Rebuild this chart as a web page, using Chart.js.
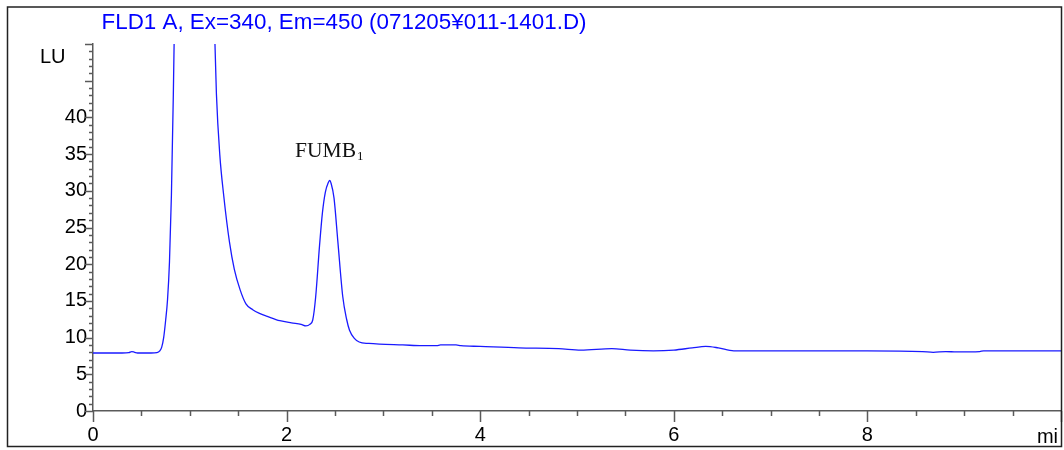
<!DOCTYPE html>
<html>
<head>
<meta charset="utf-8">
<script src="https://cdn.jsdelivr.net/npm/chart.js@4/dist/chart.umd.min.js"></script>
<style>
  html, body { margin: 0; padding: 0; background: #fff; }
  #wrap { position: relative; width: 1064px; height: 450px; }
</style>
</head>
<body>
<div id="wrap"><canvas id="chrom" width="1064" height="450"></canvas></div>
<script>
// Chromatogram trace (time in min, signal in LU)
const times = [
  0.00, 0.30, 0.37, 0.40, 0.43, 0.46, 0.60, 0.66, 0.69, 0.71, 0.73, 0.75, 0.77, 0.79,
  0.81, 0.83, 0.85, 0.90, 1.00, 1.10, 1.20, 1.26, 1.275, 1.31, 1.35, 1.41, 1.46, 1.52,
  1.58, 1.65, 1.72, 1.80, 1.93, 2.05, 2.15, 2.20, 2.24, 2.27, 2.30, 2.34, 2.37, 2.40,
  2.43, 2.445, 2.46, 2.49, 2.53, 2.58, 2.62, 2.65, 2.70, 2.75, 2.85, 2.96, 3.20, 3.40,
  3.55, 3.59, 3.75, 3.80, 4.00, 4.40, 4.81, 5.04, 5.36, 5.55, 5.79, 6.00, 6.19, 6.33,
  6.46, 6.62, 7.00, 8.00, 8.57, 8.68, 8.81, 8.92, 9.16, 9.20, 10.00
];
const signal = [
  7.9, 7.9, 7.95, 8.1, 8.0, 7.9, 7.9, 7.95, 8.2, 8.7, 10.0, 12.3, 15.2, 20.3,
  29.4, 43.2, 60, 85, 100, 95, 70, 50, 43.2, 34.9, 29.4, 23.0, 19.3, 16.5,
  14.6, 13.8, 13.3, 12.9, 12.3, 12.0, 11.8, 11.6, 11.8, 12.4, 15.5, 22.5, 27.0, 29.8,
  31.1, 31.4, 31.0, 29.0, 23.0, 15.6, 12.5, 11.0, 9.9, 9.4, 9.2, 9.1, 9.0, 8.9,
  8.9, 9.0, 9.0, 8.9, 8.8, 8.6, 8.5, 8.3, 8.5, 8.3, 8.2, 8.3, 8.6, 8.8,
  8.6, 8.2, 8.2, 8.2, 8.1, 8.0, 8.1, 8.05, 8.1, 8.2, 8.2
];
const yLabels = [0, 5, 10, 15, 20, 25, 30, 35, 40];
const xLabels = [0, 2, 4, 6, 8];
const titleText = 'FLD1 A, Ex=340, Em=450 (071205\u00A5011-1401.D)';
const peakName = 'FUMB';

const axisColor = '#5a5a5a';

// text drawn squeezed/stretched to a given width
function fitText(ctx, text, x, y, width) {
    const w = ctx.measureText(text).width;
    ctx.save();
    ctx.translate(x, y);
    ctx.scale(width / w, 1);
    ctx.fillText(text, 0, 0);
    ctx.restore();
}

const decorations = {
    id: 'decorations',
    afterDraw(chart) {
        const ctx = chart.ctx;
        const xs = chart.scales.x, ys = chart.scales.y;
        const ax = xs.left, ay = ys.bottom;

        ctx.save();
        ctx.strokeStyle = axisColor;
        ctx.lineWidth = 1.5;
        // y ticks: every 1 LU, longer every 5
        for (let v = 0; v <= 50; v++) {
            const py = Math.round(ys.getPixelForValue(v)) + 0.5;
            const len = v % 5 === 0 ? 8 : 4;
            ctx.beginPath();
            ctx.moveTo(ax - len, py);
            ctx.lineTo(ax, py);
            ctx.stroke();
        }
        // x ticks: every 0.5 min, longer every 2
        for (let i = 0; i <= 20; i++) {
            const v = i / 2;
            const px = Math.round(xs.getPixelForValue(v)) + 0.5;
            const len = (i % 4 === 0) ? 11 : 5;
            ctx.beginPath();
            ctx.moveTo(px, ay);
            ctx.lineTo(px, ay + len);
            ctx.stroke();
        }

        // outer frame
        ctx.strokeStyle = '#222';
        ctx.lineWidth = 1.5;
        ctx.strokeRect(7.5, 7, 1054, 439.5);

        // title
        ctx.fillStyle = '#0000ff';
        ctx.font = '22px "Liberation Sans", Arial, sans-serif';
        ctx.textBaseline = 'alphabetic';
        ctx.textAlign = 'left';
        fitText(ctx, titleText, 101.5, 28.5, 485);

        // axis units
        ctx.fillStyle = '#000';
        ctx.font = '20px "Liberation Sans", Arial, sans-serif';
        ctx.fillText('LU', 40, 62.5);
        ctx.textAlign = 'right';
        ctx.fillText('mi', 1058, 443);

        // peak label
        ctx.textAlign = 'left';
        ctx.fillStyle = '#111';
        ctx.font = '20px "Liberation Serif", "Times New Roman", serif';
        fitText(ctx, peakName, 295, 156.5, 61);
        ctx.font = '13px "Liberation Serif", "Times New Roman", serif';
        ctx.fillText('1', 357, 159.5);
        ctx.restore();
    }
};

new Chart(document.getElementById('chrom'), {
    type: 'line',
    data: {
        datasets: [{
            data: times.map((t, i) => ({ x: t, y: signal[i] })),
            borderColor: '#1a1aff',
            borderWidth: 1.3,
            pointRadius: 0,
            cubicInterpolationMode: 'monotone',
            fill: false
        }]
    },
    options: {
        responsive: false,
        animation: false,
        devicePixelRatio: 1,
        layout: { padding: { left: 0, top: 44, right: 3, bottom: 0 } },
        plugins: { legend: { display: false }, title: { display: false }, tooltip: { enabled: false } },
        scales: {
            x: {
                type: 'linear',
                min: 0,
                max: 10,
                afterFit: (s) => { s.height = 39; s.paddingLeft = 0; s.paddingRight = 0; },
                grid: { drawOnChartArea: false, drawTicks: false },
                border: { color: axisColor, width: 1.5 },
                ticks: {
                    stepSize: 2,
                    padding: 12,
                    maxRotation: 0,
                    color: '#000',
                    font: { family: '"Liberation Sans", Arial, sans-serif', size: 20 },
                    callback: (v) => xLabels.includes(v) ? String(v) : ''
                }
            },
            y: {
                min: 0,
                max: 50,
                afterFit: (s) => { s.width = 93; s.paddingTop = 0; s.paddingBottom = 0; },
                grid: { drawOnChartArea: false, drawTicks: false },
                border: { color: axisColor, width: 1.5 },
                ticks: {
                    stepSize: 5,
                    padding: 6,
                    color: '#000',
                    font: { family: '"Liberation Sans", Arial, sans-serif', size: 20 },
                    callback: (v) => yLabels.includes(v) ? String(v) : ''
                }
            }
        }
    },
    plugins: [decorations]
});
</script>
</body>
</html>
